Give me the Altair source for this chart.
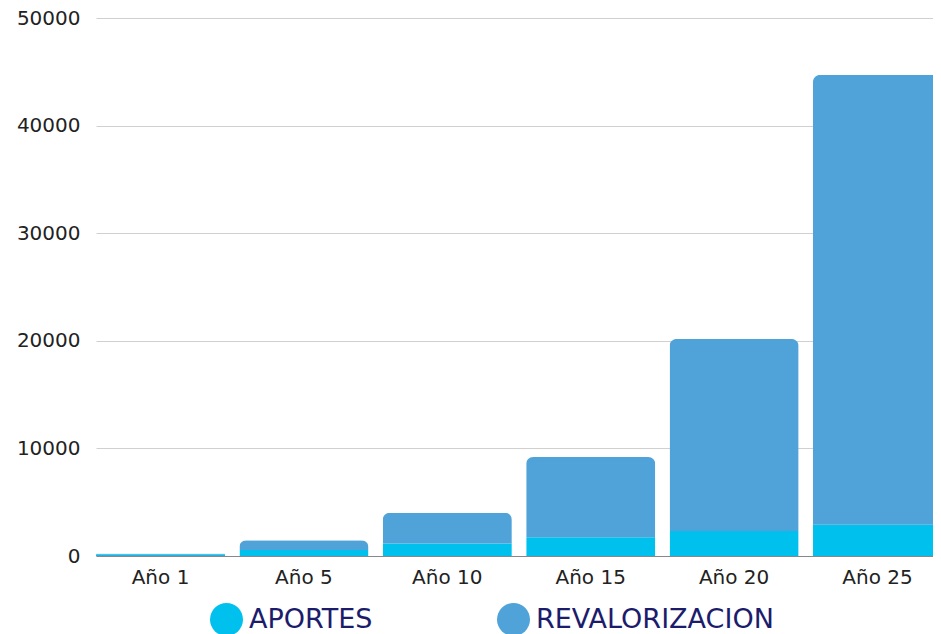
import altair as alt
import pandas as pd

years = ["Año 1", "Año 5", "Año 10", "Año 15", "Año 20", "Año 25"]
aportes = [120, 560, 1160, 1740, 2320, 2900]
revalorizacion = [110, 900, 2860, 7460, 17850, 41800]
series = ["APORTES", "REVALORIZACION"]
colors = ["#00C1EE", "#4FA3D8"]
y_ticks = [0, 10000, 20000, 30000, 40000, 50000]

rows = []
for i, yr in enumerate(years):
    rows.append({"year": yr, "serie": series[0], "value": aportes[i], "ord": 0})
    rows.append({"year": yr, "serie": series[1], "value": revalorizacion[i], "ord": 1})
df = pd.DataFrame(rows)

FONT = "DejaVu Sans"

chart = alt.Chart(df).mark_bar(cornerRadiusEnd=7).encode(
    x=alt.X("year:N", sort=years, title=None,
            scale=alt.Scale(range=[0, 846], paddingInner=0.1, paddingOuter=0),
            axis=alt.Axis(labelAngle=0, ticks=False, domainColor="#888888",
                          labelFont=FONT, labelFontSize=20, labelColor="#222222",
                          labelPadding=11)),
    y=alt.Y("value:Q", stack="zero", title=None,
            scale=alt.Scale(domain=[0, 50000], nice=False),
            axis=alt.Axis(values=y_ticks, ticks=False, domain=False, format="d",
                          gridColor="#D0D0D0", labelFont=FONT, labelFontSize=20,
                          labelColor="#222222", labelPadding=16)),
    color=alt.Color("serie:N", scale=alt.Scale(domain=series, range=colors),
                    legend=alt.Legend(title=None, orient="none", direction="horizontal",
                                      legendX=114, legendY=585,
                                      symbolType="circle", symbolSize=1089,
                                      symbolStrokeWidth=0, symbolOpacity=1,
                                      labelFont=FONT, labelFontSize=27,
                                      labelColor="#1C1C6C", columnPadding=124,
                                      labelOffset=6, labelLimit=400)),
    order=alt.Order("ord:Q"),
).properties(
    width=837, height=538,
    autosize=alt.AutoSizeParams(type="none"),
    padding={"left": 88, "top": 10, "right": 0, "bottom": 78},
).configure_view(stroke=None)

chart.save("out.html", embed_options={"renderer": "svg", "actions": False})
